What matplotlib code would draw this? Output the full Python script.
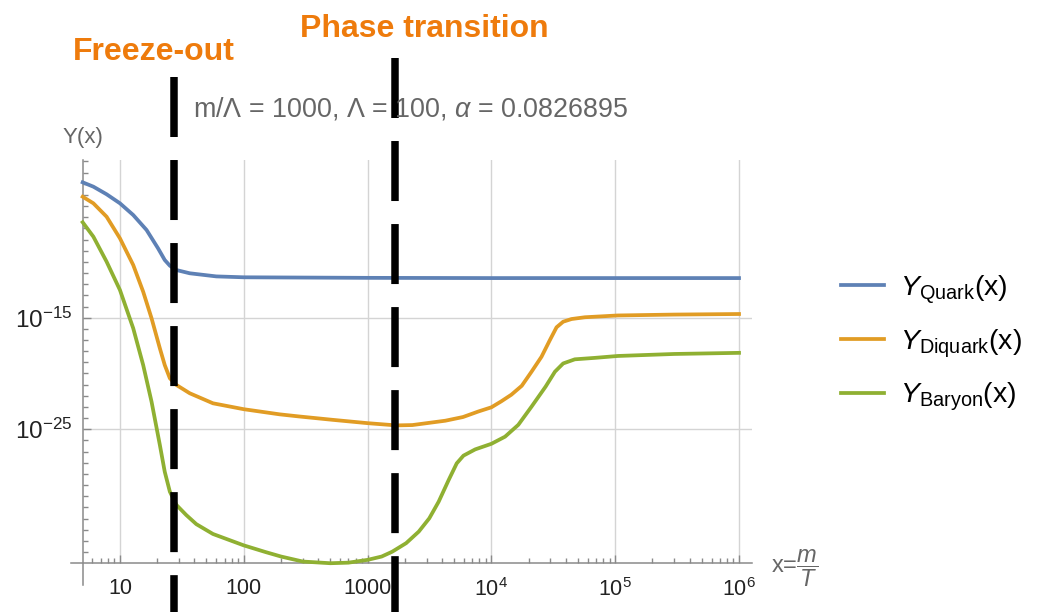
import numpy as np
import matplotlib
matplotlib.use('Agg')
import matplotlib.pyplot as plt
from matplotlib.ticker import FixedLocator, NullFormatter
from matplotlib.transforms import blended_transform_factory

plt.rcParams['font.family'] = ['Liberation Sans', 'DejaVu Sans']
plt.rcParams['mathtext.fontset'] = 'custom'
plt.rcParams['mathtext.rm'] = 'Liberation Sans'
plt.rcParams['mathtext.it'] = 'Liberation Sans:italic'
plt.rcParams['mathtext.bf'] = 'Liberation Sans:bold'

# data (x = m/T, values are log10 Y)
x_quark = [5, 6.1, 7.8, 10, 12.8, 16.4, 20.3, 23.0, 25.3, 28.6, 36.6, 60, 100, 1000,
           1e4, 1e5, 1e6]
y_quark = [-2.87, -3.26, -3.94, -4.75, -5.8, -7.14, -8.78, -9.83, -10.34, -10.73, -11.02,
           -11.3, -11.38, -11.43, -11.45, -11.45, -11.45]

x_diquark = [5, 6.1, 7.8, 10, 12.8, 15.4, 18, 21, 23, 25.3, 28.6, 36.6, 56.4, 100, 195,
             280, 520, 1000, 1700, 2300, 4250, 5900, 7870, 1e4, 12000, 14500, 17600, 21100,
             25400, 29700, 33600, 38000, 44400, 57000, 1.05e5, 3e5, 1e6]
y_diquark = [-4.16, -4.75, -5.95, -7.89, -10.28, -12.67, -15.05, -17.74, -19.24, -20.43,
             -21.03, -21.77, -22.67, -23.2, -23.66, -23.85, -24.15, -24.45, -24.65, -24.62,
             -24.23, -23.9, -23.4, -23.03, -22.5, -21.9, -21.1, -19.84, -18.5, -17.0, -15.86,
             -15.36, -15.12, -14.96, -14.8, -14.72, -14.67]

x_baryon = [5, 6.1, 7.8, 10, 12.8, 15.4, 18, 21, 23, 25.3, 28.6, 34.3, 41.4, 56.4, 100,
            150, 200, 300, 500, 700, 1000, 1300, 1580, 2050, 2590, 3150, 3750, 4520, 5250,
            5950, 7400, 1e4, 12900, 16500, 21100, 27400, 32600, 38000, 47200, 68400, 1.05e5,
            3e5, 1e6]
y_baryon = [-6.45, -7.74, -9.98, -12.52, -15.95, -19.24, -22.53, -26.4, -28.8, -30.59,
            -31.78, -32.68, -33.5, -34.38, -35.4, -36.0, -36.4, -36.85, -37.0, -36.95, -36.7,
            -36.4, -35.97, -35.2, -34.17, -32.98, -31.49, -29.54, -28.05, -27.36, -26.8,
            -26.3, -25.66, -24.6, -22.97, -21.18, -19.84, -19.1, -18.73, -18.6, -18.43,
            -18.25, -18.15]

labels = [r'$Y_{\mathrm{Quark}}(\mathrm{x})$', r'$Y_{\mathrm{Diquark}}(\mathrm{x})$',
          r'$Y_{\mathrm{Baryon}}(\mathrm{x})$']
colors = ['#5E81B5', '#E19C24', '#8FB032']

freeze_x = 27.2
phase_x = 1660

x_ticks = [10, 100, 1000, 1e4, 1e5, 1e6]
x_ticklabels = ['10', '100', '1000', r'$10^4$', r'$10^5$', r'$10^6$']
y_ticks = [1e-25, 1e-15]
y_ticklabels = [r'$10^{-25}$', r'$10^{-15}$']

fig = plt.figure(figsize=(10.4, 6.12), dpi=100)
ax = fig.add_axes([83/1040, 1-563/612, 669/1040, 403/612])
ax.set_xscale('log')
ax.set_yscale('log')
ax.set_xlim(5.03, 10**6.105)
ax.set_ylim(10**-36.98, 10**-0.87)

for xs, ys, c, lab in zip([x_quark, x_diquark, x_baryon], [y_quark, y_diquark, y_baryon],
                          colors, labels):
    ax.plot(xs, 10.0**np.array(ys), color=c, lw=2.7, label=lab, solid_joinstyle='round',
            clip_on=False, zorder=3)

# grid
for xv in x_ticks:
    ax.axvline(xv, color='#d4d4d4', lw=1, zorder=1)
for yv in y_ticks:
    ax.axhline(yv, color='#d4d4d4', lw=1, zorder=1)

# mathematica style axes
for s in ['top', 'right']:
    ax.spines[s].set_visible(False)
for s in ['left', 'bottom']:
    ax.spines[s].set_color('#8a8a8a')
    ax.spines[s].set_linewidth(1.1)
ax.spines['bottom'].set_bounds(4.0, 10**6.105)
ax.spines['left'].set_bounds(10**-38.95, 10**-0.87)

ax.xaxis.set_major_locator(FixedLocator(x_ticks))
ax.set_xticklabels(x_ticklabels)
ax.xaxis.set_minor_locator(FixedLocator([m * 10.0**e for e in range(0, 7) for m in range(2, 10)]))
ax.xaxis.set_minor_formatter(NullFormatter())
ax.yaxis.set_major_locator(FixedLocator(y_ticks))
ax.set_yticklabels(y_ticklabels)
ax.yaxis.set_minor_locator(FixedLocator([10.0**e for e in range(-37, 0)]))
ax.yaxis.set_minor_formatter(NullFormatter())
ax.tick_params(which='both', direction='in', color='#8a8a8a', width=1)
ax.tick_params(which='major', length=6, labelcolor='#222222')
ax.tick_params(which='minor', length=3.5)
ax.tick_params(axis='x', which='major', pad=11, labelsize=15.5)
ax.tick_params(axis='y', which='major', pad=8, labelsize=17.5)

# hand drawn markers for freeze-out and phase transition
trans = blended_transform_factory(ax.transData, fig.transFigure)
for xv, top in [(freeze_x, 1-77/612), (phase_x, 1-58/612)]:
    ax.plot([xv, xv], [top, -0.05], transform=trans, color='black', lw=5.4,
            linestyle=(0, (8.0, 3.07)), clip_on=False, zorder=5)

fig.text(73/1040, 1-60/612, 'Freeze-out', color='#EE7B0C', fontsize=23,
         fontweight='bold', ha='left', va='baseline')
fig.text(300/1040, 1-37/612, 'Phase transition', color='#EE7B0C', fontsize=23,
         fontweight='bold', ha='left', va='baseline')
fig.text(193/1040, 1-117/612, r'm/$\Lambda$ = 1000, $\Lambda$ = 100, $\alpha$ = 0.0826895',
         color='#666666', fontsize=19.4, ha='left', va='baseline')
fig.text(63/1040, 1-143/612, 'Y(x)', color='#666666', fontsize=16, ha='left', va='baseline')
fig.text(771/1040, 1-568/612, r'x=$\dfrac{m}{T}$', color='#666666', fontsize=17,
         ha='left', va='center')

fig.legend(loc='center left', bbox_to_anchor=(841/1040, 1-343/612), frameon=False,
           fontsize=20.5, handlelength=1.51, handletextpad=0.56, labelspacing=0.75,
           borderpad=0, borderaxespad=0)

fig.savefig('out.png', dpi=100)
